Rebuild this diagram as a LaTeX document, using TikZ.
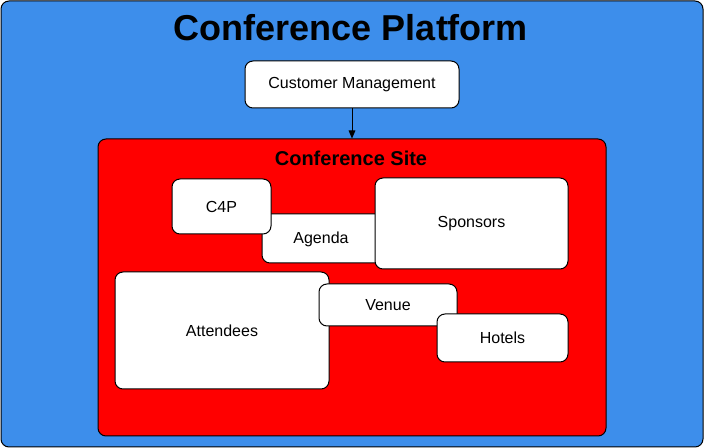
\documentclass[tikz,border=0pt]{standalone}
\usepackage{fontspec}
\setmainfont{Liberation Sans}
\usetikzlibrary{arrows.meta}
\definecolor{platblue}{RGB}{61,142,235}
\definecolor{sitered}{RGB}{255,0,0}
\tikzset{
  box/.style={draw=black, fill=white, rounded corners=6pt, line width=0.75pt,
    inner sep=0pt, font=\fontsize{12}{14}\selectfont},
}
\begin{document}
\begin{tikzpicture}[x=0.75pt,y=-0.75pt]
\useasboundingbox (0,0) rectangle (704,448);
% outer platform
\node[draw=black, fill=platblue, rounded corners=6pt, line width=0.75pt,
  minimum width=702*0.75pt, minimum height=446*0.75pt, inner sep=0pt] (platform) at (352,224) {};
\node[font=\bfseries\fontsize{27}{32}\selectfont] (title) at (351,28) {Conference Platform};
\node[box, minimum width=214*0.75pt, minimum height=47*0.75pt] (cm) at (352,84.5) {Customer Management};
% conference site
\node[draw=black, fill=sitered, rounded corners=6pt, line width=0.75pt,
  minimum width=508*0.75pt, minimum height=297*0.75pt, inner sep=0pt] (site) at (352,287.5) {};
\node[font=\bfseries\fontsize{15}{18}\selectfont] (sitelabel) at (351,158) {Conference Site};
\draw[line width=0.75pt, -{Triangle[length=6pt,width=5pt]}] (cm.south) -- (site.north);
% inner boxes
\node[box, minimum width=128*0.75pt, minimum height=49*0.75pt] (agenda) at (326,238.5) {};
\node[font=\fontsize{12}{14}\selectfont] (agendalabel) at (321,239) {Agenda};
\node[box, minimum width=99*0.75pt, minimum height=55*0.75pt] (c4p) at (221.5,206.5) {C4P};
\node[box, minimum width=193*0.75pt, minimum height=91*0.75pt] (sponsors) at (471.5,223.5) {Sponsors};
\node[box, minimum width=214*0.75pt, minimum height=117*0.75pt] (attendees) at (222,330.5) {Attendees};
\node[box, minimum width=138*0.75pt, minimum height=42*0.75pt] (venue) at (388,305) {Venue};
\node[box, minimum width=131*0.75pt, minimum height=48*0.75pt] (hotels) at (502.5,338) {Hotels};
\end{tikzpicture}
\end{document}
